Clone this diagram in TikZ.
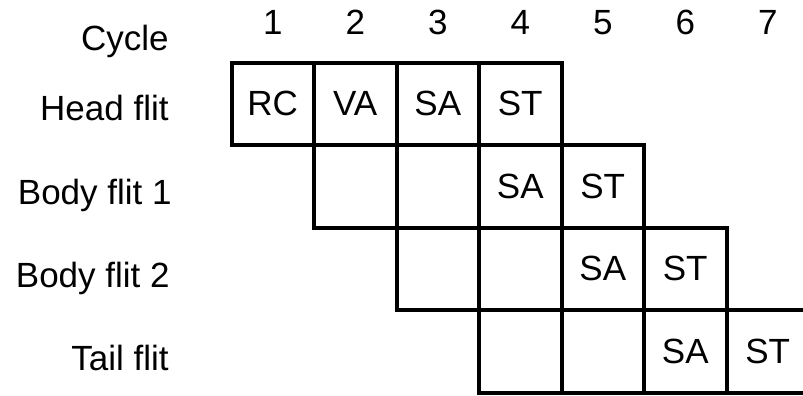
\documentclass[tikz,border=0pt]{standalone}
\usepackage{fontspec}
\setmainfont{Liberation Sans}
\begin{document}
\begin{tikzpicture}[x=0.5pt,y=-0.5pt,
  txt/.style={font=\fontsize{17.5}{20}\selectfont},
  cell/.style={txt, draw, line width=2pt, minimum width=41.25pt, minimum height=41.25pt, inner sep=0pt},
  lbl/.style={txt, anchor=base east, inner sep=0pt},
  num/.style={txt, anchor=base, inner sep=0pt}]
\useasboundingbox (0,0) rectangle (803,396);
\clip (0,0) rectangle (803,396);
% cycle numbers
\node[lbl] (cyc) at (169,50) {Cycle};
\foreach \c in {1,...,7}{
  \node[num] (n\c) at ({272.75+82.5*(\c-1)},34) {\c};
}
% row labels
\node[lbl] (lh) at (169,120.5) {Head flit};
\node[lbl] (lb1) at (172,204) {Body flit 1};
\node[lbl] (lb2) at (170,287) {Body flit 2};
\node[lbl] (lt) at (169,370) {Tail flit};
% head flit row
\node[cell] (h1) at (272.75,103.75) {RC};
\node[cell] (h2) at (355.25,103.75) {VA};
\node[cell] (h3) at (437.75,103.75) {SA};
\node[cell] (h4) at (520.25,103.75) {ST};
% body flit 1
\node[cell] (a1) at (355.25,186.25) {};
\node[cell] (a2) at (437.75,186.25) {};
\node[cell] (a3) at (520.25,186.25) {SA};
\node[cell] (a4) at (602.75,186.25) {ST};
% body flit 2
\node[cell] (b1) at (437.75,268.75) {};
\node[cell] (b2) at (520.25,268.75) {};
\node[cell] (b3) at (602.75,268.75) {SA};
\node[cell] (b4) at (685.25,268.75) {ST};
% tail flit
\node[cell] (t1) at (520.25,351.25) {};
\node[cell] (t2) at (602.75,351.25) {};
\node[cell] (t3) at (685.25,351.25) {SA};
\node[cell] (t4) at (767.75,351.25) {ST};
\end{tikzpicture}
\end{document}
